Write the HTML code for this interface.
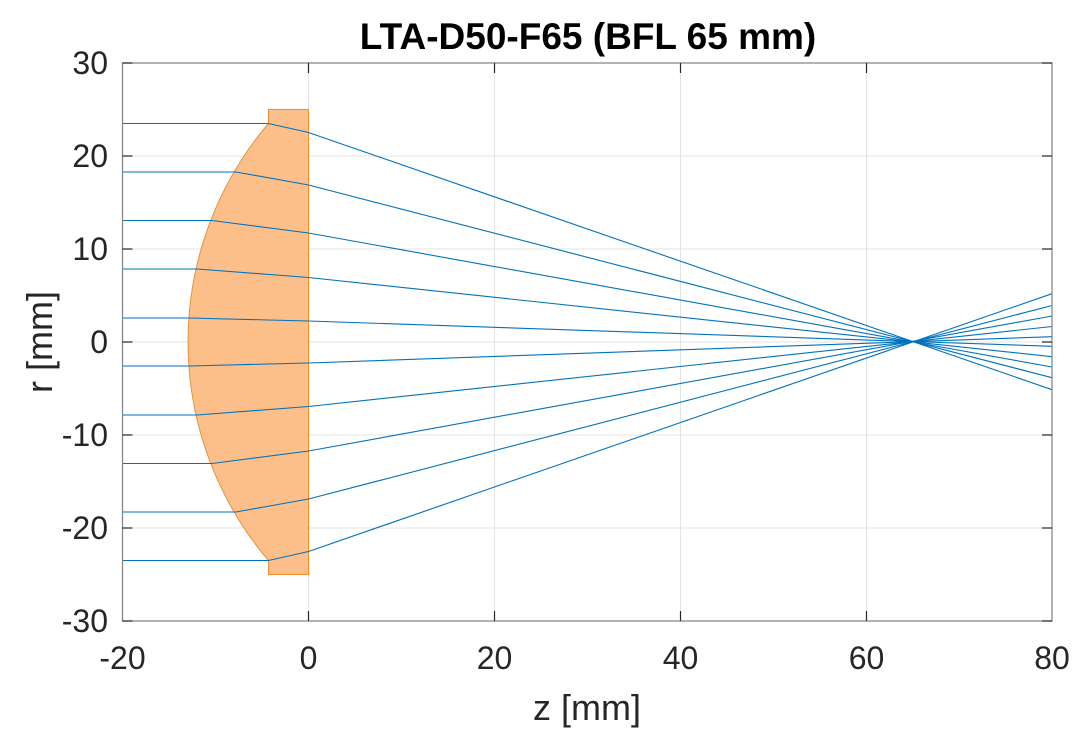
<!DOCTYPE html>
<html><head><meta charset="utf-8"><style>
html,body{margin:0;padding:0;background:#fff;}
svg{display:block;font-family:"Liberation Sans",Arial,sans-serif;}
</style></head><body>
<svg width="1089" height="747" viewBox="0 0 1089 747" xmlns="http://www.w3.org/2000/svg">
<rect width="1089" height="747" fill="#fff"/>
<g stroke="#e3e3e3" stroke-width="1">
<line x1="308.5" y1="63" x2="308.5" y2="621"/>
<line x1="494.5" y1="63" x2="494.5" y2="621"/>
<line x1="680.5" y1="63" x2="680.5" y2="621"/>
<line x1="866.5" y1="63" x2="866.5" y2="621"/>
<line x1="122.5" y1="156" x2="1052" y2="156"/>
<line x1="122.5" y1="249" x2="1052" y2="249"/>
<line x1="122.5" y1="342" x2="1052" y2="342"/>
<line x1="122.5" y1="435" x2="1052" y2="435"/>
<line x1="122.5" y1="528" x2="1052" y2="528"/>
</g>
<path d="M268.5,109.5 L308.5,109.5 L308.5,574.5 L268.5,574.5 L268.5,560.5 A337,337 0 0 1 268.5,123.5 Z" fill="#fdbf8a" stroke="#f28e2b" stroke-width="1"/>
<g stroke="#0072bd" stroke-width="1.1" fill="none">
<polyline points="122.5,123.5 268.5,123.5 308.5,132.5 1052,389.7"/>
<polyline points="122.5,172 236,172 308.5,185 1052,377.7"/>
<polyline points="122.5,220.5 212,220.5 308.5,233 1052,367"/>
<polyline points="122.5,269 197,269 308.5,277.5 1052,356.7"/>
<polyline points="122.5,318 189,318 308.5,321 1052,346.3"/>
<polyline points="122.5,366 189,366 308.5,363 1052,336.7"/>
<polyline points="122.5,415 197,415 308.5,406.5 1052,326.5"/>
<polyline points="122.5,463.5 212,463.5 308.5,451 1052,316"/>
<polyline points="122.5,512 236,512 308.5,499 1052,305.5"/>
<polyline points="122.5,560.5 268.5,560.5 308.5,551.5 1052,293.7"/>
</g>
<rect x="122.5" y="63" width="929.5" height="558" fill="none" stroke="#808080" stroke-width="1.2"/>
<g stroke="#262626" stroke-width="1.2">
<line x1="308.5" y1="621" x2="308.5" y2="611"/><line x1="494.5" y1="621" x2="494.5" y2="611"/><line x1="680.5" y1="621" x2="680.5" y2="611"/><line x1="866.5" y1="621" x2="866.5" y2="611"/>
<line x1="308.5" y1="63" x2="308.5" y2="73"/><line x1="494.5" y1="63" x2="494.5" y2="73"/><line x1="680.5" y1="63" x2="680.5" y2="73"/><line x1="866.5" y1="63" x2="866.5" y2="73"/>
<line x1="122.5" y1="63" x2="132.5" y2="63"/><line x1="122.5" y1="156" x2="132.5" y2="156"/><line x1="122.5" y1="249" x2="132.5" y2="249"/><line x1="122.5" y1="342" x2="132.5" y2="342"/><line x1="122.5" y1="435" x2="132.5" y2="435"/><line x1="122.5" y1="528" x2="132.5" y2="528"/><line x1="122.5" y1="621" x2="132.5" y2="621"/>
<line x1="1052" y1="63" x2="1042" y2="63"/><line x1="1052" y1="156" x2="1042" y2="156"/><line x1="1052" y1="249" x2="1042" y2="249"/><line x1="1052" y1="342" x2="1042" y2="342"/><line x1="1052" y1="435" x2="1042" y2="435"/><line x1="1052" y1="528" x2="1042" y2="528"/><line x1="1052" y1="621" x2="1042" y2="621"/>
</g>
<g fill="#262626" font-size="32" text-anchor="middle">
<text x="122.5" y="669">-20</text><text x="308.5" y="669">0</text><text x="494.5" y="669">20</text><text x="680.5" y="669">40</text><text x="866.5" y="669">60</text><text x="1052" y="669">80</text>
</g>
<g fill="#262626" font-size="32" text-anchor="end">
<text x="108" y="74">30</text><text x="108" y="167">20</text><text x="108" y="260">10</text><text x="108" y="353">0</text><text x="108" y="446">-10</text><text x="108" y="539">-20</text><text x="108" y="632">-30</text>
</g>
<text x="587" y="720" font-size="36" text-anchor="middle" fill="#262626">z [mm]</text>
<text transform="translate(52,342) rotate(-90)" font-size="36" text-anchor="middle" fill="#262626">r [mm]</text>
<text x="588" y="49" font-size="37" font-weight="bold" text-anchor="middle" fill="#000">LTA-D50-F65 (BFL 65 mm)</text>
</svg>
</body></html>
